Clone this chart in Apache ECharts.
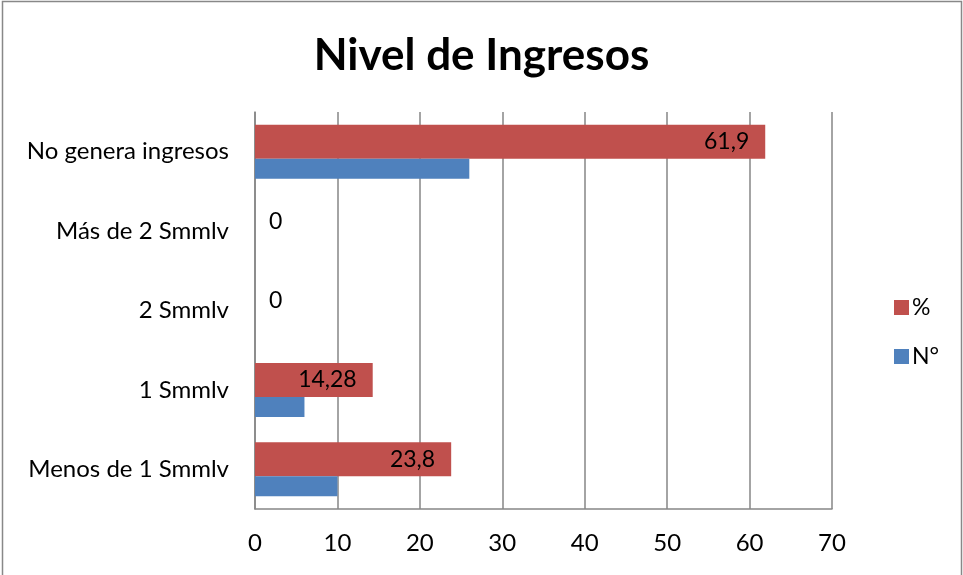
<!DOCTYPE html>
<html>
<head>
<meta charset="utf-8">
<title>Nivel de Ingresos</title>
<script src="https://cdn.jsdelivr.net/npm/echarts@6/dist/echarts.min.js"></script>
<style>
  body { margin: 0; background: #fff; }
  #chart { width: 963px; height: 575px; }
</style>
</head>
<body>
<div id="chart"></div>
<script>
// data (bottom to top, as drawn on the category axis)
var categories = ['Menos de 1 Smmlv', '1 Smmlv', '2 Smmlv', 'Más de 2 Smmlv', 'No genera ingresos'];
var pctValues = [23.8, 14.28, 0, 0, 61.9];
var countValues = [10, 6, 0, 0, 26];
var xTicks = [0, 10, 20, 30, 40, 50, 60, 70];

var fontFam = "Lato, 'Open Sans', sans-serif";
var gridColor = '#868686';

// zero bars get their label pushed out to the right of the axis
var pctData = pctValues.map(function (v) {
  if (v === 0) {
    return { value: v, label: { position: 'right', distance: 14 } };
  }
  return v;
});

var chart = echarts.init(document.getElementById('chart'));
var option = {
  animation: false,
  backgroundColor: '#fff',
  graphic: [{
    type: 'rect',
    shape: { x: 2.5, y: 1.5, width: 959, height: 590 },
    style: { fill: 'none', stroke: '#888', lineWidth: 1.5 },
    silent: true
  }],
  title: {
    text: 'Nivel de Ingresos',
    left: 'center',
    top: 29,
    textStyle: { fontFamily: fontFam, fontWeight: 'bold', fontSize: 44, color: '#000' }
  },
  legend: {
    orient: 'vertical',
    left: 889,
    top: 291,
    icon: 'rect',
    itemWidth: 15,
    itemHeight: 15,
    itemGap: 26,
    data: ['%', 'N°'],
    textStyle: { fontFamily: fontFam, fontSize: 23, color: '#000', padding: [0, 0, 0, -2] }
  },
  grid: { left: 255, right: 131, top: 112, bottom: 66 },
  xAxis: {
    type: 'value',
    min: xTicks[0],
    max: xTicks[xTicks.length - 1],
    interval: 10,
    axisLine: { show: true, lineStyle: { color: gridColor, width: 1.5 } },
    axisTick: { show: false },
    splitLine: { show: true, lineStyle: { color: gridColor, width: 1.5 } },
    axisLabel: { margin: 22, fontFamily: fontFam, fontSize: 24, color: '#000' }
  },
  yAxis: {
    type: 'category',
    data: categories,
    axisLine: { show: true, lineStyle: { color: gridColor, width: 1.5 } },
    axisTick: { show: false },
    axisLabel: { margin: 26, fontFamily: fontFam, fontSize: 24, color: '#000' }
  },
  series: [
    {
      name: '%',
      type: 'bar',
      data: pctData,
      barWidth: 34,
      barGap: '0%',
      itemStyle: { color: '#C0504D' },
      label: {
        show: true,
        position: 'insideRight',
        distance: 16,
        fontFamily: fontFam,
        fontSize: 23,
        color: '#000',
        formatter: function (p) { return String(p.value).replace('.', ','); }
      }
    },
    {
      name: 'N°',
      type: 'bar',
      data: countValues,
      barWidth: 20,
      barGap: '0%',
      itemStyle: { color: '#4F81BD' }
    }
  ]
};
chart.setOption(option);
</script>
</body>
</html>
